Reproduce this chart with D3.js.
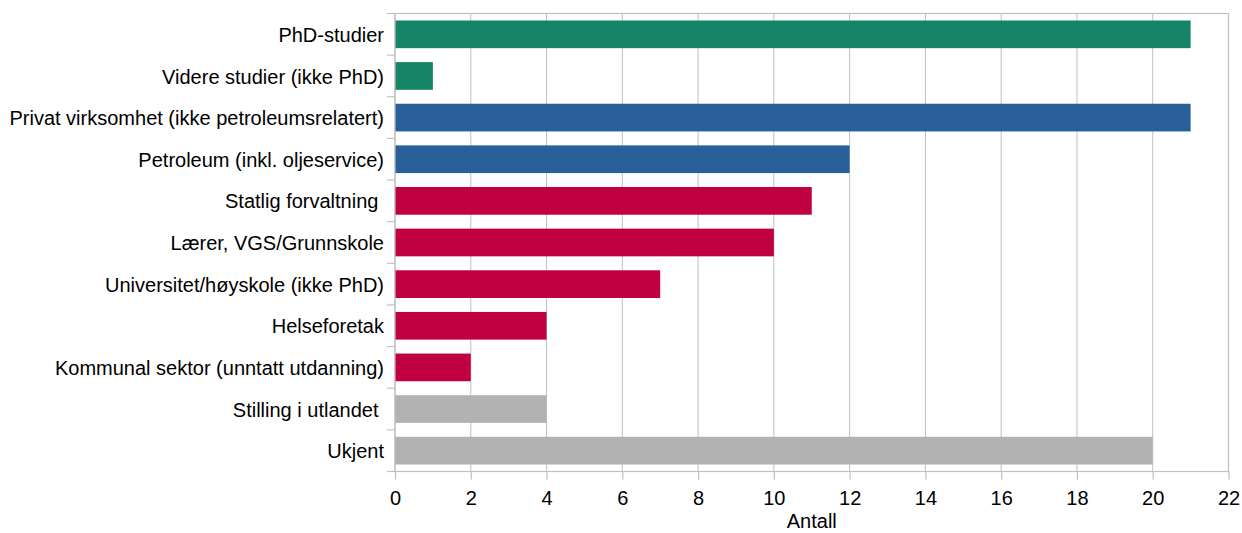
<!DOCTYPE html>
<html>
<head>
<meta charset="utf-8">
<script src="https://cdn.jsdelivr.net/npm/d3@7"></script>
<style>
  html, body { margin: 0; padding: 0; background: #ffffff; }
  svg text { font-family: "Liberation Sans", Arial, sans-serif; fill: #000; white-space: pre; }
</style>
</head>
<body>
<svg id="chart" width="1242" height="533"></svg>
<script>
// Categories (top to bottom), counts and bar colour groups
const categories = [
  "PhD-studier",
  "Videre studier (ikke PhD)",
  "Privat virksomhet (ikke petroleumsrelatert)",
  "Petroleum (inkl. oljeservice)",
  "Statlig forvaltning ",
  "Lærer, VGS/Grunnskole",
  "Universitet/høyskole (ikke PhD)",
  "Helseforetak",
  "Kommunal sektor (unntatt utdanning)",
  "Stilling i utlandet ",
  "Ukjent"
];
const values = [21, 1, 21, 12, 11, 10, 7, 4, 2, 4, 20];
const groups = ["studier", "studier", "privat", "privat", "offentlig", "offentlig", "offentlig", "offentlig", "offentlig", "annet", "annet"];
const xTicks = [0, 2, 4, 6, 8, 10, 12, 14, 16, 18, 20, 22];
const xTitle = "Antall";

const groupColors = {
  studier: "#168466",
  privat: "#2a6099",
  offentlig: "#bf0041",
  annet: "#b2b2b2"
};

const svg = d3.select("#chart");
const margin = { top: 13.5, right: 13.5, bottom: 61.5, left: 395 };
const W = 1242, H = 533;
const innerW = W - margin.left - margin.right;
const innerH = H - margin.top - margin.bottom;
const fontSize = 20;

const x = d3.scaleLinear().domain([0, 22]).range([0, innerW]);
const y = d3.scaleBand().domain(categories).range([0, innerH]).paddingInner(0.335).paddingOuter(0.1675);

const g = svg.append("g").attr("transform", `translate(${margin.left},${margin.top})`);
const gridColor = "#c0c0c0";

// Vertical grid lines
g.append("g")
  .selectAll("line")
  .data(xTicks)
  .join("line")
  .attr("x1", d => x(d)).attr("x2", d => x(d))
  .attr("y1", 0).attr("y2", innerH)
  .attr("stroke", gridColor).attr("stroke-width", 1);

// Bars
g.append("g")
  .selectAll("rect")
  .data(categories)
  .join("rect")
  .attr("x", x(0))
  .attr("y", d => y(d))
  .attr("width", (d, i) => x(values[i]) - x(0))
  .attr("height", y.bandwidth())
  .attr("fill", (d, i) => groupColors[groups[i]]);

// Frame
g.append("rect")
  .attr("x", 0).attr("y", 0)
  .attr("width", innerW).attr("height", innerH)
  .attr("fill", "none").attr("stroke", gridColor).attr("stroke-width", 1.2);

// Category separators on the left axis
const sepY = d3.range(categories.length + 1).map(i => i * (innerH / categories.length));
g.append("g")
  .selectAll("line")
  .data(sepY)
  .join("line")
  .attr("x1", -8).attr("x2", 0)
  .attr("y1", d => d).attr("y2", d => d)
  .attr("stroke", gridColor).attr("stroke-width", 1.2);

// Category labels
g.append("g")
  .selectAll("text")
  .data(categories)
  .join("text")
  .attr("x", -11)
  .attr("y", d => y(d) + y.bandwidth() / 2)
  .attr("dy", "0.38em")
  .attr("text-anchor", "end")
  .attr("font-size", fontSize)
  .text(d => d);

// X axis
const xAxis = d3.axisBottom(x).tickValues(xTicks).tickSize(8).tickPadding(11).tickFormat(d3.format("d"));
const ax = g.append("g").attr("transform", `translate(0,${innerH})`).call(xAxis);
ax.select(".domain").remove();
ax.selectAll(".tick line").attr("stroke", gridColor).attr("stroke-width", 1.2);
ax.selectAll(".tick text").attr("font-size", fontSize).attr("fill", "#000")
  .attr("font-family", "Liberation Sans, Arial, sans-serif");

// Axis title
svg.append("text")
  .attr("x", margin.left + innerW / 2)
  .attr("y", 528)
  .attr("text-anchor", "middle")
  .attr("font-size", fontSize)
  .text(xTitle);
</script>
</body>
</html>
